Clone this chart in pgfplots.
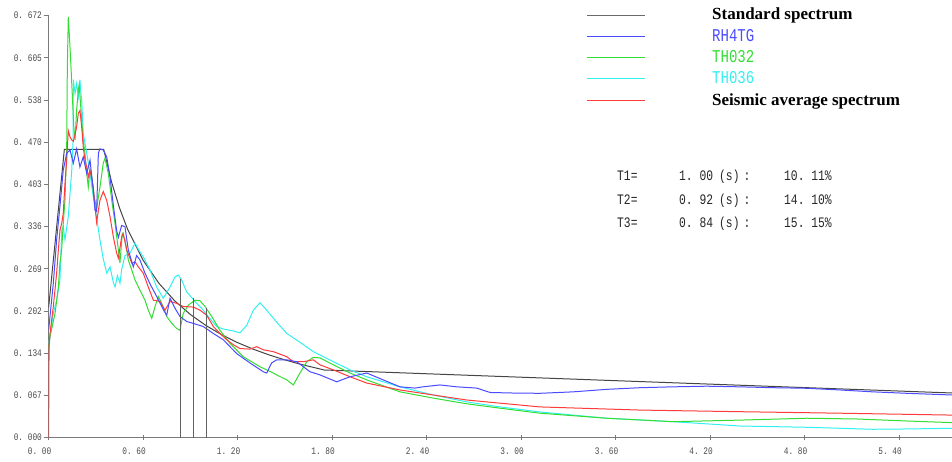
\documentclass[border=0pt]{standalone}
\usepackage{pgfplots}
\pgfplotsset{compat=1.18}
\usepackage{fontspec}
\setmainfont{Liberation Serif}
\newfontfamily\simfont[FakeStretch=0.78]{Liberation Mono}

\definecolor{stdc}{HTML}{454545}
\definecolor{stdleg}{HTML}{6A6A6A}
\definecolor{bluec}{HTML}{4B4BFF}
\definecolor{greenc}{HTML}{33DD33}
\definecolor{cyanc}{HTML}{33F0F0}
\definecolor{redc}{HTML}{FF3B3B}
\definecolor{axisc}{HTML}{7A7A7A}
\definecolor{tickc}{HTML}{4A4A4A}

\begin{document}
\frenchspacing
\begin{tikzpicture}
\begin{axis}[
  scale only axis,
  width=903.4pt, height=422pt,
  xmin=0, xmax=5.736, ymin=0, ymax=0.672,
  axis x line=bottom, axis y line=left,
  axis line style={-, draw=axisc, line width=1.1pt},
  xtick={0,0.6,1.2,1.8,2.4,3.0,3.6,4.2,4.8,5.4},
  xticklabels={0.\ 00,0.\ 60,1.\ 20,1.\ 80,2.\ 40,3.\ 00,3.\ 60,4.\ 20,4.\ 80,5.\ 40},
  ytick={0,0.0672,0.1344,0.2016,0.2688,0.336,0.4032,0.4704,0.5376,0.6048,0.672},
  yticklabels={0.\ 000,0.\ 067,0.\ 134,0.\ 202,0.\ 269,0.\ 336,0.\ 403,0.\ 470,0.\ 538,0.\ 605,0.\ 672},
  major tick length=5pt,
  x tick style={draw=axisc, line width=0.9pt},
  y tick style={draw=axisc, line width=0.9pt},
  xtick align=center, ytick align=outside,
  ticklabel style={font=\simfont\fontsize{10}{10}\selectfont, text=tickc},
  yticklabel style={inner sep=1.5pt},
  xticklabel style={xshift=-9pt, inner sep=1pt, yshift=-6pt},
]

% code design spectrum
\addplot[stdc, line width=1pt] coordinates {
(0,0.2066) (0.1,0.459) (0.35,0.459) (0.4,0.4070) (0.45,0.3661) (0.5,0.3330)
(0.6,0.2826) (0.7,0.2460) (0.8,0.2181) (0.9,0.1962) (1.0,0.1785) (1.1,0.1638)
(1.2,0.1514) (1.3,0.1409) (1.4,0.1318) (1.5,0.1239) (1.6,0.1169) (1.75,0.1078)
(5.736,0.0712)};

% TH036
\addplot[cyanc, line width=1pt] coordinates {
(0.000,0.150) (0.009,0.161) (0.030,0.198) (0.051,0.219) (0.072,0.251) (0.083,0.330)
(0.093,0.336) (0.104,0.315) (0.125,0.352) (0.147,0.426) (0.155,0.470) (0.157,0.570)
(0.168,0.548) (0.178,0.564) (0.189,0.543) (0.199,0.570) (0.205,0.548) (0.210,0.538)
(0.220,0.485) (0.242,0.453) (0.263,0.421) (0.284,0.383) (0.305,0.350) (0.326,0.315)
(0.347,0.285) (0.369,0.262) (0.390,0.272) (0.411,0.247) (0.422,0.240) (0.437,0.258)
(0.453,0.246) (0.464,0.268) (0.485,0.290) (0.517,0.294) (0.549,0.310) (0.570,0.300)
(0.601,0.288) (0.644,0.267) (0.686,0.240) (0.728,0.222) (0.771,0.240) (0.803,0.256)
(0.823,0.259) (0.845,0.251) (0.877,0.232) (0.909,0.223) (0.940,0.214) (0.972,0.206)
(1.014,0.193) (1.067,0.177) (1.109,0.173) (1.173,0.170) (1.215,0.167) (1.258,0.179)
(1.300,0.203) (1.342,0.215) (1.385,0.203) (1.448,0.184) (1.512,0.166) (1.596,0.152)
(1.681,0.137) (1.808,0.121) (1.914,0.108) (2.020,0.097) (2.231,0.081) (2.443,0.068)
(2.655,0.057) (2.866,0.049) (3.120,0.041) (3.544,0.031) (3.964,0.0255) (4.390,0.0186)
(4.813,0.0166) (5.234,0.0134) (5.448,0.0139) (5.736,0.015)};

% TH032
\addplot[greenc, line width=1pt] coordinates {
(0.000,0.139) (0.009,0.161) (0.041,0.198) (0.062,0.240) (0.072,0.278) (0.083,0.299)
(0.093,0.341) (0.104,0.378) (0.115,0.463) (0.119,0.591) (0.125,0.670) (0.133,0.636)
(0.142,0.591) (0.152,0.538) (0.160,0.495) (0.168,0.474) (0.178,0.522) (0.189,0.554)
(0.194,0.562) (0.199,0.545) (0.210,0.506) (0.220,0.474) (0.231,0.453) (0.242,0.421)
(0.252,0.399) (0.263,0.426) (0.274,0.415) (0.284,0.390) (0.305,0.365) (0.326,0.399)
(0.347,0.437) (0.358,0.445) (0.379,0.421) (0.401,0.378) (0.422,0.341) (0.443,0.299)
(0.453,0.278) (0.468,0.325) (0.485,0.315) (0.506,0.283) (0.528,0.267) (0.549,0.251)
(0.580,0.235) (0.612,0.219) (0.633,0.203) (0.655,0.190) (0.676,0.209) (0.697,0.225)
(0.718,0.214) (0.750,0.193) (0.782,0.182) (0.813,0.174) (0.834,0.171) (0.855,0.198)
(0.887,0.211) (0.930,0.219) (0.961,0.218) (0.993,0.209) (1.036,0.193) (1.088,0.171)
(1.152,0.150) (1.236,0.129) (1.342,0.113) (1.427,0.103) (1.448,0.100) (1.512,0.092)
(1.554,0.084) (1.596,0.103) (1.639,0.121) (1.681,0.128) (1.723,0.127) (1.808,0.116)
(1.914,0.103) (2.020,0.092) (2.231,0.073) (2.443,0.063) (2.655,0.054) (2.866,0.047)
(3.120,0.039) (3.544,0.031) (3.964,0.0255) (4.390,0.028) (4.813,0.031) (5.131,0.0298)
(5.448,0.0266) (5.736,0.024)};

% seismic average
\addplot[redc, line width=1pt] coordinates {
(0.000,0.000) (0.003,0.145) (0.009,0.166) (0.030,0.209) (0.051,0.262) (0.062,0.299)
(0.072,0.330) (0.083,0.341) (0.093,0.357) (0.104,0.405) (0.115,0.442) (0.125,0.489)
(0.136,0.479) (0.147,0.474) (0.157,0.472) (0.168,0.483) (0.178,0.495) (0.189,0.517)
(0.199,0.521) (0.210,0.495) (0.220,0.463) (0.231,0.442) (0.242,0.431) (0.252,0.415)
(0.263,0.426) (0.284,0.399) (0.295,0.367) (0.305,0.343) (0.326,0.378) (0.347,0.392)
(0.369,0.378) (0.390,0.352) (0.411,0.320) (0.432,0.294) (0.443,0.286) (0.464,0.320)
(0.474,0.325) (0.496,0.299) (0.528,0.278) (0.549,0.280) (0.570,0.272) (0.601,0.262)
(0.633,0.240) (0.665,0.219) (0.707,0.217) (0.739,0.203) (0.771,0.217) (0.813,0.214)
(0.855,0.209) (0.919,0.208) (0.961,0.203) (1.004,0.195) (1.046,0.177) (1.088,0.166)
(1.131,0.156) (1.173,0.148) (1.215,0.142) (1.279,0.141) (1.321,0.145) (1.363,0.140)
(1.427,0.137) (1.512,0.129) (1.554,0.121) (1.617,0.121) (1.681,0.124) (1.723,0.116)
(1.808,0.108) (1.914,0.097) (2.020,0.087) (2.231,0.076) (2.443,0.068) (2.655,0.060)
(2.866,0.055) (3.120,0.049) (3.755,0.044) (4.390,0.0414) (5.025,0.039) (5.736,0.036)};

% RH4TG
\addplot[bluec, line width=1pt] coordinates {
(0.000,0.171) (0.030,0.246) (0.051,0.315) (0.072,0.368) (0.093,0.426) (0.115,0.453)
(0.136,0.458) (0.157,0.437) (0.178,0.460) (0.199,0.431) (0.220,0.447) (0.242,0.421)
(0.263,0.442) (0.284,0.394) (0.295,0.362) (0.305,0.360) (0.316,0.453) (0.326,0.460)
(0.347,0.458) (0.369,0.447) (0.390,0.415) (0.411,0.370) (0.432,0.330) (0.443,0.319)
(0.464,0.338) (0.485,0.336) (0.506,0.299) (0.538,0.272) (0.559,0.290) (0.580,0.283)
(0.612,0.262) (0.644,0.245) (0.686,0.225) (0.728,0.204) (0.750,0.195) (0.771,0.222)
(0.803,0.206) (0.834,0.193) (0.877,0.185) (0.919,0.182) (0.982,0.177) (1.046,0.166)
(1.109,0.156) (1.194,0.134) (1.279,0.119) (1.363,0.105) (1.385,0.103) (1.416,0.119)
(1.448,0.124) (1.512,0.124) (1.575,0.121) (1.660,0.105) (1.723,0.100) (1.829,0.089)
(1.914,0.097) (2.020,0.103) (2.125,0.092) (2.231,0.081) (2.326,0.079) (2.377,0.081)
(2.485,0.084) (2.591,0.081) (2.718,0.079) (2.803,0.072) (2.972,0.071) (3.120,0.0707)
(3.330,0.073) (3.544,0.077) (3.755,0.0796) (3.964,0.081) (4.178,0.082) (4.390,0.081)
(4.600,0.0796) (4.813,0.0787) (5.025,0.076) (5.234,0.073) (5.448,0.0707) (5.736,0.068)};

% period markers T3, T2, T1
\addplot[stdc!85, line width=1.1pt] coordinates {(0.84,0) (0.84,0.252)};
\addplot[stdc!85, line width=1.1pt] coordinates {(0.92,0) (0.92,0.2225)};
\addplot[stdc!85, line width=1.1pt] coordinates {(1.00,0) (1.00,0.206)};
\end{axis}

% key and period summary, positioned in page units from the top-left corner
\begin{scope}[x=1pt, y=-1pt, shift={(-48.6pt,437.7pt)}]
  \draw[stdleg, line width=1.2pt]  (587,15.5)  -- (645,15.5);
  \draw[bluec,  line width=1.2pt]  (587,36.5)  -- (645,36.5);
  \draw[greenc, line width=1.2pt]  (587,57.5)  -- (645,57.5);
  \draw[cyanc,  line width=1.2pt]  (587,78.5)  -- (645,78.5);
  \draw[redc,   line width=1.2pt]  (587,100.5) -- (645,100.5);
  \begin{scope}[every node/.style={anchor=base west, inner sep=0pt}]
    \node[font=\fontsize{17}{17}\selectfont\bfseries] at (712,19.5) {Standard spectrum};
    \node[font=\simfont\fontsize{18}{18}\selectfont, text=bluec]  at (712,41.3) {RH4TG};
    \node[font=\simfont\fontsize{18}{18}\selectfont, text=greenc] at (712,62.5) {TH032};
    \node[font=\simfont\fontsize{18}{18}\selectfont, text=cyanc]  at (712,83.6) {TH036};
    \node[font=\fontsize{17}{17}\selectfont\bfseries] at (712,105.5) {Seismic average spectrum};
  \end{scope}
  \begin{scope}[every node/.style={anchor=base west, inner sep=0pt, text=black!85,
      font=\simfont\fontsize{14.5}{16}\selectfont}]
    \node at (617,181) {T1=};  \node at (679,181) {1.\ 00}; \node at (719,181) {(s)\hspace{4pt}:}; \node at (784,181) {10.\ 11\%};
    \node at (617,204.5) {T2=}; \node at (679,204.5) {0.\ 92}; \node at (719,204.5) {(s)\hspace{4pt}:}; \node at (784,204.5) {14.\ 10\%};
    \node at (617,228) {T3=};  \node at (679,228) {0.\ 84}; \node at (719,228) {(s)\hspace{4pt}:}; \node at (784,228) {15.\ 15\%};
  \end{scope}
\end{scope}

\pgfresetboundingbox
\useasboundingbox (-48.6pt,-24.3pt) rectangle (903.4pt,437.7pt);
\end{tikzpicture}
\end{document}
